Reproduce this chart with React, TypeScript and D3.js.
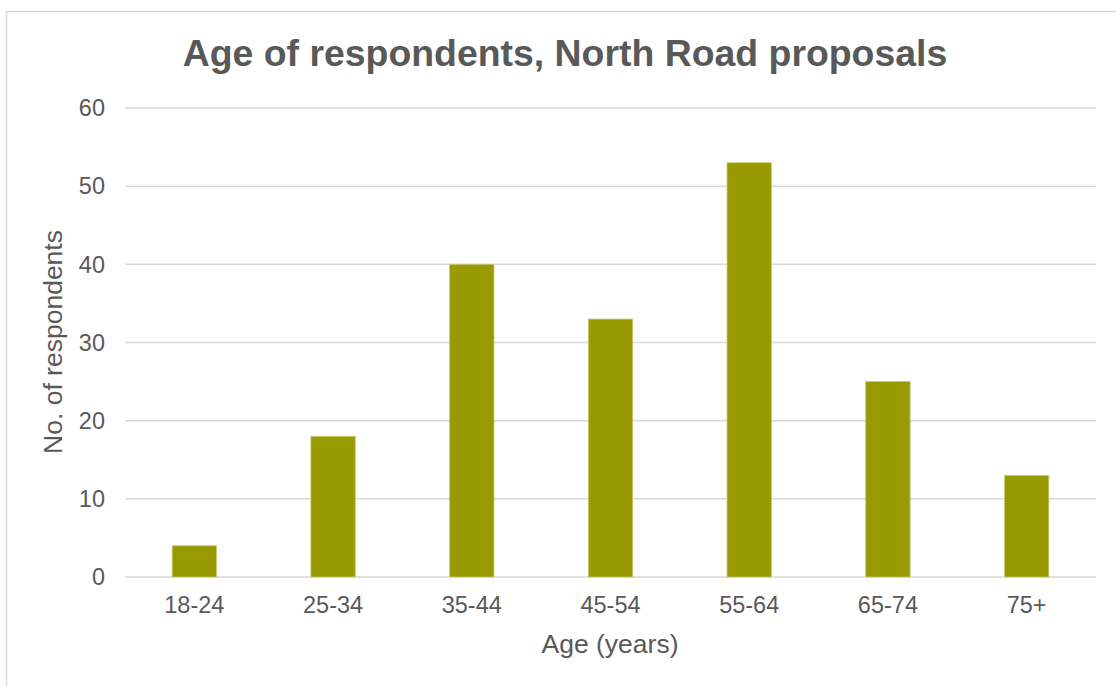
import React from "react";
import * as d3 from "d3";

const categories: string[] = ["18-24", "25-34", "35-44", "45-54", "55-64", "65-74", "75+"];
const respondents: number[] = [4, 18, 40, 33, 53, 25, 13];
const yTicks: number[] = [0, 10, 20, 30, 40, 50, 60];

const W = 1116;
const H = 686;
const FONT = "'Liberation Sans', Arial, sans-serif";
const TEXT = "#595959";

export default function App() {
  const x = d3
    .scaleBand<string>()
    .domain(categories)
    .range([125, 1096])
    .paddingInner(0.68)
    .paddingOuter(0.34);
  const y = d3.scaleLinear().domain([0, 60]).range([577, 108]);

  return (
    <svg
      width={W}
      height={H}
      style={{ position: "absolute", left: 0, top: 0, background: "#fff" }}
      fontFamily={FONT}
    >
      <rect x={0} y={0} width={W} height={H} fill="#fff" />
      <rect x={6.5} y={11.5} width={W + 20} height={H + 20} fill="none" stroke="#d9d9d9" strokeWidth={1.5} />
      <text x={565} y={66} textAnchor="middle" fontSize={37.4} fontWeight="bold" fill={TEXT}>
        Age of respondents, North Road proposals
      </text>
      {yTicks.map((t) => (
        <g key={t}>
          <line x1={125} x2={1096} y1={y(t)} y2={y(t)} stroke="#d9d9d9" strokeWidth={1.5} />
          <text x={105} y={y(t)} dy="0.35em" textAnchor="end" fontSize={23.5} fill={TEXT}>
            {t}
          </text>
        </g>
      ))}
      {categories.map((c, i) => (
        <g key={c}>
          <rect
            x={x(c)}
            y={y(respondents[i])}
            width={x.bandwidth()}
            height={y(0) - y(respondents[i])}
            fill="#999900"
            stroke="#c9ca74"
            strokeWidth={0.8}
          />
          <text x={(x(c) as number) + x.bandwidth() / 2} y={613} textAnchor="middle" fontSize={23.5} fill={TEXT}>
            {c}
          </text>
        </g>
      ))}
      <text x={610} y={653} textAnchor="middle" fontSize={26.5} fill={TEXT}>
        Age (years)
      </text>
      <text transform="translate(62,342) rotate(-90)" textAnchor="middle" fontSize={26.5} fill={TEXT}>
        No. of respondents
      </text>
    </svg>
  );
}
